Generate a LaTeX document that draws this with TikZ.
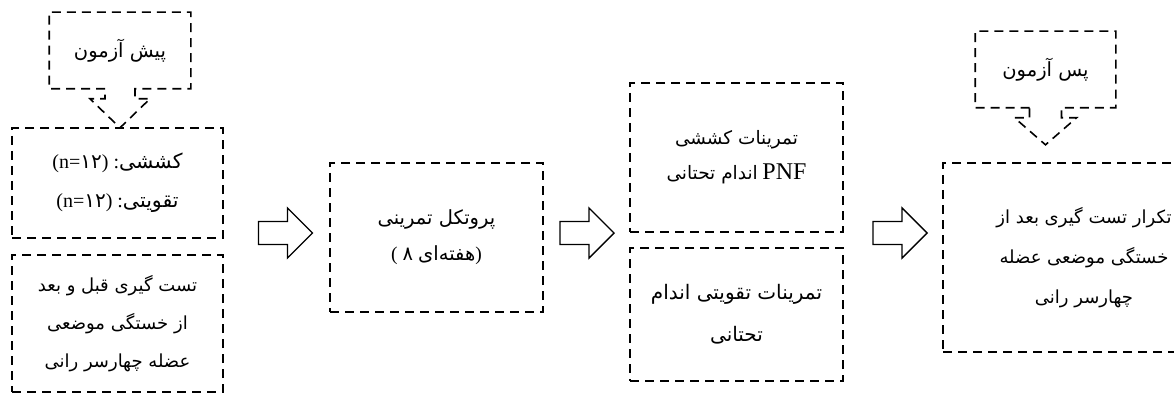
\documentclass[tikz,border=0pt]{standalone}
\usepackage{fontspec}
\setmainfont{Liberation Serif}
\newfontfamily\fa[Script=Arabic]{DejaVu Sans}
\TeXXeTstate=1
\usetikzlibrary{calc}
% one right-to-left Persian run
\newcommand{\rl}[1]{\mbox{\fa\beginR #1\endR}}
\begin{document}
\begin{tikzpicture}[x=1pt,y=-1pt,
  dline/.style={draw, line width=1.6pt, dash pattern=on 9pt off 6pt},
  dbox/.style={dline, rectangle, inner sep=0pt, align=center,
    font=\fontsize{18}{38}\selectfont},
  barrow/.pic={\draw[line width=1.4pt, line join=miter]
    (-27,-11.5) -- (2,-11.5) -- (2,-25) -- (27,0) -- (2,25) -- (2,11.5)
    -- (-27,11.5) -- cycle;}]
\useasboundingbox (0,0) rectangle (1174,398);

% pre-test callout
\node[dbox, draw=none, minimum width=140pt, minimum height=75pt,
  font=\fontsize{19.5}{22}\selectfont] (pre) at (120,50.5) {\rl{پیش آزمون}};
\draw[dline] ([xshift=-15pt]pre.south) -- (pre.south west) -- (pre.north west)
  -- (pre.north east) -- (pre.south east) -- ([xshift=15pt]pre.south)
  -- ++(0,10) -- ++(15,0) -- ($(pre.south)+(0,39)$) coordinate (pretip)
  -- ($(pre.south)+(-30,10)$) -- ++(15,0) -- cycle;

% groups
\node[dbox, minimum width=211pt, minimum height=110pt,
  font=\fontsize{20}{39}\selectfont] (groups) at (117.5,183)
  {\mbox{(n=}\mbox{\fa ۱۲})\ :\mbox{\fa\fontsize{20.5}{39}\selectfont کششی}\\
   \mbox{(n=}\mbox{\fa ۱۲})\ :\mbox{\fa\fontsize{20.5}{39}\selectfont تقویتی}};
% tests
\node[dbox, minimum width=211pt, minimum height=137pt] (tests) at (117.5,323.5)
  {\rl{تست گیری قبل و بعد}\\ \rl{از خستگی موضعی}\\ \rl{عضله چهارسر رانی}};

\pic at (285.5,233) {barrow};

% protocol
\node[dbox, minimum width=213pt, minimum height=149pt,
  font=\fontsize{19.5}{34}\selectfont] (protocol) at (436.5,237.5)
  {\rl{پروتکل تمرینی}\\[2pt] \mbox{(}\hspace{5pt}\mbox{\fa ۸}\hspace{5pt}\mbox{\fa هفته‌ای}\mbox{)}};

\pic at (587,233) {barrow};

% exercises
\node[dbox, minimum width=213pt, minimum height=149pt,
  font=\fontsize{18.5}{35}\selectfont] (stretch) at (736.5,157.5)
  {\rl{تمرینات کششی}\\ \rl{اندام تحتانی}\ {\fontsize{24}{26}\selectfont PNF}};
\node[dbox, minimum width=213pt, minimum height=133pt,
  font=\fontsize{20}{42}\selectfont] (strength) at (736.5,314.5)
  {\rl{تمرینات تقویتی اندام}\\ \rl{تحتانی}};

\pic at (900,233) {barrow};

% post-test callout
\node[dbox, draw=none, minimum width=139pt, minimum height=75pt,
  font=\fontsize{19.5}{22}\selectfont] (post) at (1045.5,69.5) {\rl{پس آزمون}};
\draw[dline] ([xshift=-16pt]post.south) -- (post.south west) -- (post.north west)
  -- (post.north east) -- (post.south east) -- ([xshift=16pt]post.south)
  -- ++(0,10) -- ++(15,0) -- ($(post.south)+(0,37)$) coordinate (posttip)
  -- ($(post.south)+(-31,10)$) -- ++(15,0) -- cycle;

% retest
\node[dbox, minimum width=282pt, minimum height=189pt,
  font=\fontsize{18}{40}\selectfont] (retest) at (1084,257.5)
  {\rl{تکرار تست گیری بعد از}\\ \rl{خستگی موضعی عضله}\\ \rl{چهارسر رانی}};
\end{tikzpicture}
\end{document}
